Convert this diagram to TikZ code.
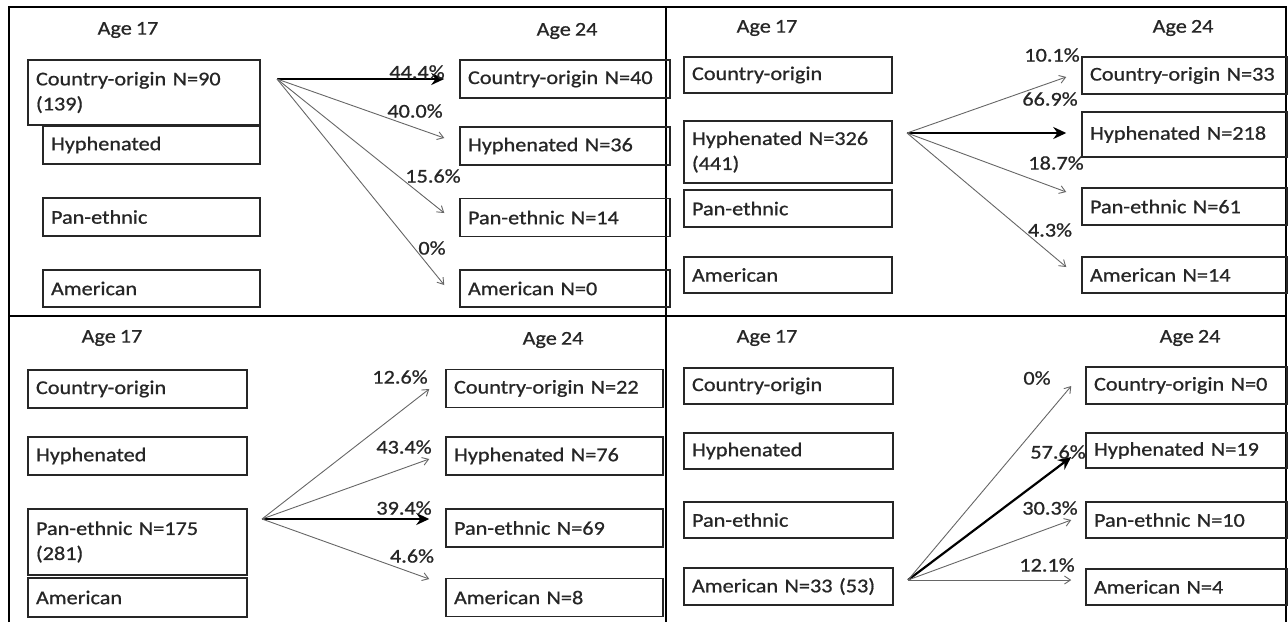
\documentclass[tikz,border=0pt]{standalone}
\usepackage{fontspec}
\setmainfont{Carlito}[FakeStretch=1.14,FakeBold=0.8,WordSpace=0.8]
\usetikzlibrary{arrows.meta}
\begin{document}
\begin{tikzpicture}[x=1pt,y=-1pt,
  every node/.style={font=\fontsize{19.5}{25}\selectfont,text=black!85},
  bx/.style={draw=black!85,line width=1.5pt,inner xsep=8pt,inner ysep=2pt,text width=#1pt,
             align=left,minimum height=38pt},
  age/.style={inner sep=0pt},
  pct/.style={inner sep=0pt},
  thn/.style={-{Straight Barb[length=6pt,width=8pt]},black!60,line width=0.9pt},
  thk/.style={-{Stealth[length=13pt,width=12pt]},black,line width=2.2pt},
  frm/.style={line width=2pt}]
\useasboundingbox (0,0) rectangle (1288,622);
% frame and dividers
\draw[frm] (9,622) -- (9,7) -- (1286,7) -- (1286,622);
\draw[frm] (9,316) -- (1286,316);
\draw[frm] (666,7) -- (666,622);
% headings
\node[age] (a1) at (128,30) {Age 17};
\node[age] (a2) at (567,31) {Age 24};
\node[age] (a3) at (767,28) {Age 17};
\node[age] (a4) at (1183,28) {Age 24};
\node[age] (a5) at (112,338) {Age 17};
\node[age] (a6) at (553,340) {Age 24};
\node[age] (a7) at (767,338) {Age 17};
\node[age] (a8) at (1190,338) {Age 24};
% top left: country-origin at 17
\node[bx=216,minimum height=65pt] (coA) at (144,92.5) {Country-origin N=90\\(139)};
\node[bx=201] (hyA) at (151.5,145) {Hyphenated};
\node[bx=201] (peA) at (151.5,217) {Pan-ethnic};
\node[bx=201,minimum height=37pt] (amA) at (151.5,288.5) {American};
\node[bx=194] (coB) at (565,79) {Country-origin N=40};
\node[bx=194] (hyB) at (565,146) {Hyphenated N=36};
\node[bx=194] (peB) at (565,217.5) {Pan-ethnic N=14};
\node[bx=194,minimum height=37pt] (amB) at (565,288.5) {American N=0};
% top right: hyphenated at 17
\node[bx=192,minimum height=36pt] (coC) at (788,75) {Country-origin};
\node[bx=192,minimum height=62pt] (hyC) at (788,152) {Hyphenated N=326\\(441)};
\node[bx=192,minimum height=37pt] (peC) at (788,208.5) {Pan-ethnic};
\node[bx=192,minimum height=36pt] (amC) at (788,275) {American};
\node[bx=189,minimum height=37pt] (coD) at (1184.5,75.5) {Country-origin N=33};
\node[bx=189,minimum height=45pt] (hyD) at (1184.5,134.5) {Hyphenated N=218};
\node[bx=189,minimum height=37pt] (peD) at (1184.5,206.5) {Pan-ethnic N=61};
\node[bx=189,minimum height=36pt] (amD) at (1184.5,275) {American N=14};
% bottom left: pan-ethnic at 17
\node[bx=203] (coE) at (137.5,389) {Country-origin};
\node[bx=203] (hyE) at (137.5,456) {Hyphenated};
\node[bx=203,minimum height=66pt] (peE) at (137.5,542) {Pan-ethnic N=175\\(281)};
\node[bx=203,minimum height=39pt] (amE) at (137.5,597.5) {American};
\node[bx=201] (coF) at (554.5,388.5) {Country-origin N=22};
\node[bx=201] (hyF) at (554.5,456) {Hyphenated N=76};
\node[bx=201] (peF) at (554.5,528) {Pan-ethnic N=69};
\node[bx=201] (amF) at (554.5,597.5) {American N=8};
% bottom right: american at 17
\node[bx=193,minimum height=36pt] (coG) at (788.5,386) {Country-origin};
\node[bx=193,minimum height=36pt] (hyG) at (788.5,451) {Hyphenated};
\node[bx=193,minimum height=36pt] (peG) at (788.5,520) {Pan-ethnic};
\node[bx=193,minimum height=37pt] (amG) at (788.5,586.5) {American N=33 (53)};
\node[bx=185,minimum height=37pt] (coH) at (1186.5,385.5) {Country-origin N=0};
\node[bx=185,minimum height=35pt] (hyH) at (1186.5,450.5) {Hyphenated N=19};
\node[bx=185,minimum height=36pt] (peH) at (1186.5,520) {Pan-ethnic N=10};
\node[bx=185,minimum height=36pt] (amH) at (1186.5,587) {American N=4};
% transitions
\coordinate (o1) at (277,79);
\coordinate (o2) at (907,133);
\coordinate (o3) at (262,519);
\coordinate (o4) at (908,580);
\draw[thk] (o1) -- ([xshift=-15pt]coB.west);
\foreach \b/\d in {hyB/8,peB/4.5,amB/3.5} \draw[thn] (o1) -- ([xshift=-15pt,yshift=\d pt]\b.west);
\draw[thk] (o2) -- ([xshift=-15pt,yshift=1.5pt]hyD.west);
\foreach \b/\d in {coD/-1.5,peD/14.5,amD/8} \draw[thn] (o2) -- ([xshift=-15pt,yshift=\d pt]\b.west);
\draw[thk] (o3) -- ([xshift=-16pt,yshift=9pt]peF.west);
\foreach \b/\d in {coF/-0.5,hyF/-3,amF/18.5} \draw[thn] (o3) -- ([xshift=-16pt,yshift=\d pt]\b.west);
\draw[thk] (o4) -- ([xshift=-14pt,yshift=-6.5pt]hyH.west);
\foreach \b/\d in {coH/-0.5,peH/0,amH/7} \draw[thn] (o4) -- ([xshift=-14pt,yshift=\d pt]\b.west);
% shares
\node[pct] (p1) at (417,72) {44.4\%};
\node[pct] (p2) at (415,111) {40.0\%};
\node[pct] (p3) at (433,176) {15.6\%};
\node[pct] (p4) at (432,248) {0\%};
\node[pct] (p5) at (1052,55) {10.1\%};
\node[pct] (p6) at (1050,99) {66.9\%};
\node[pct] (p7) at (1056,163) {18.7\%};
\node[pct] (p8) at (1050,230) {4.3\%};
\node[pct] (p9) at (400,377) {12.6\%};
\node[pct] (p10) at (404,447) {43.4\%};
\node[pct] (p11) at (404,508) {39.4\%};
\node[pct] (p12) at (412,556) {4.6\%};
\node[pct] (p13) at (1037,378) {0\%};
\node[pct] (p14) at (1058,452) {57.6\%};
\node[pct] (p15) at (1050,508) {30.3\%};
\node[pct] (p16) at (1047,565) {12.1\%};
\end{tikzpicture}
\end{document}
